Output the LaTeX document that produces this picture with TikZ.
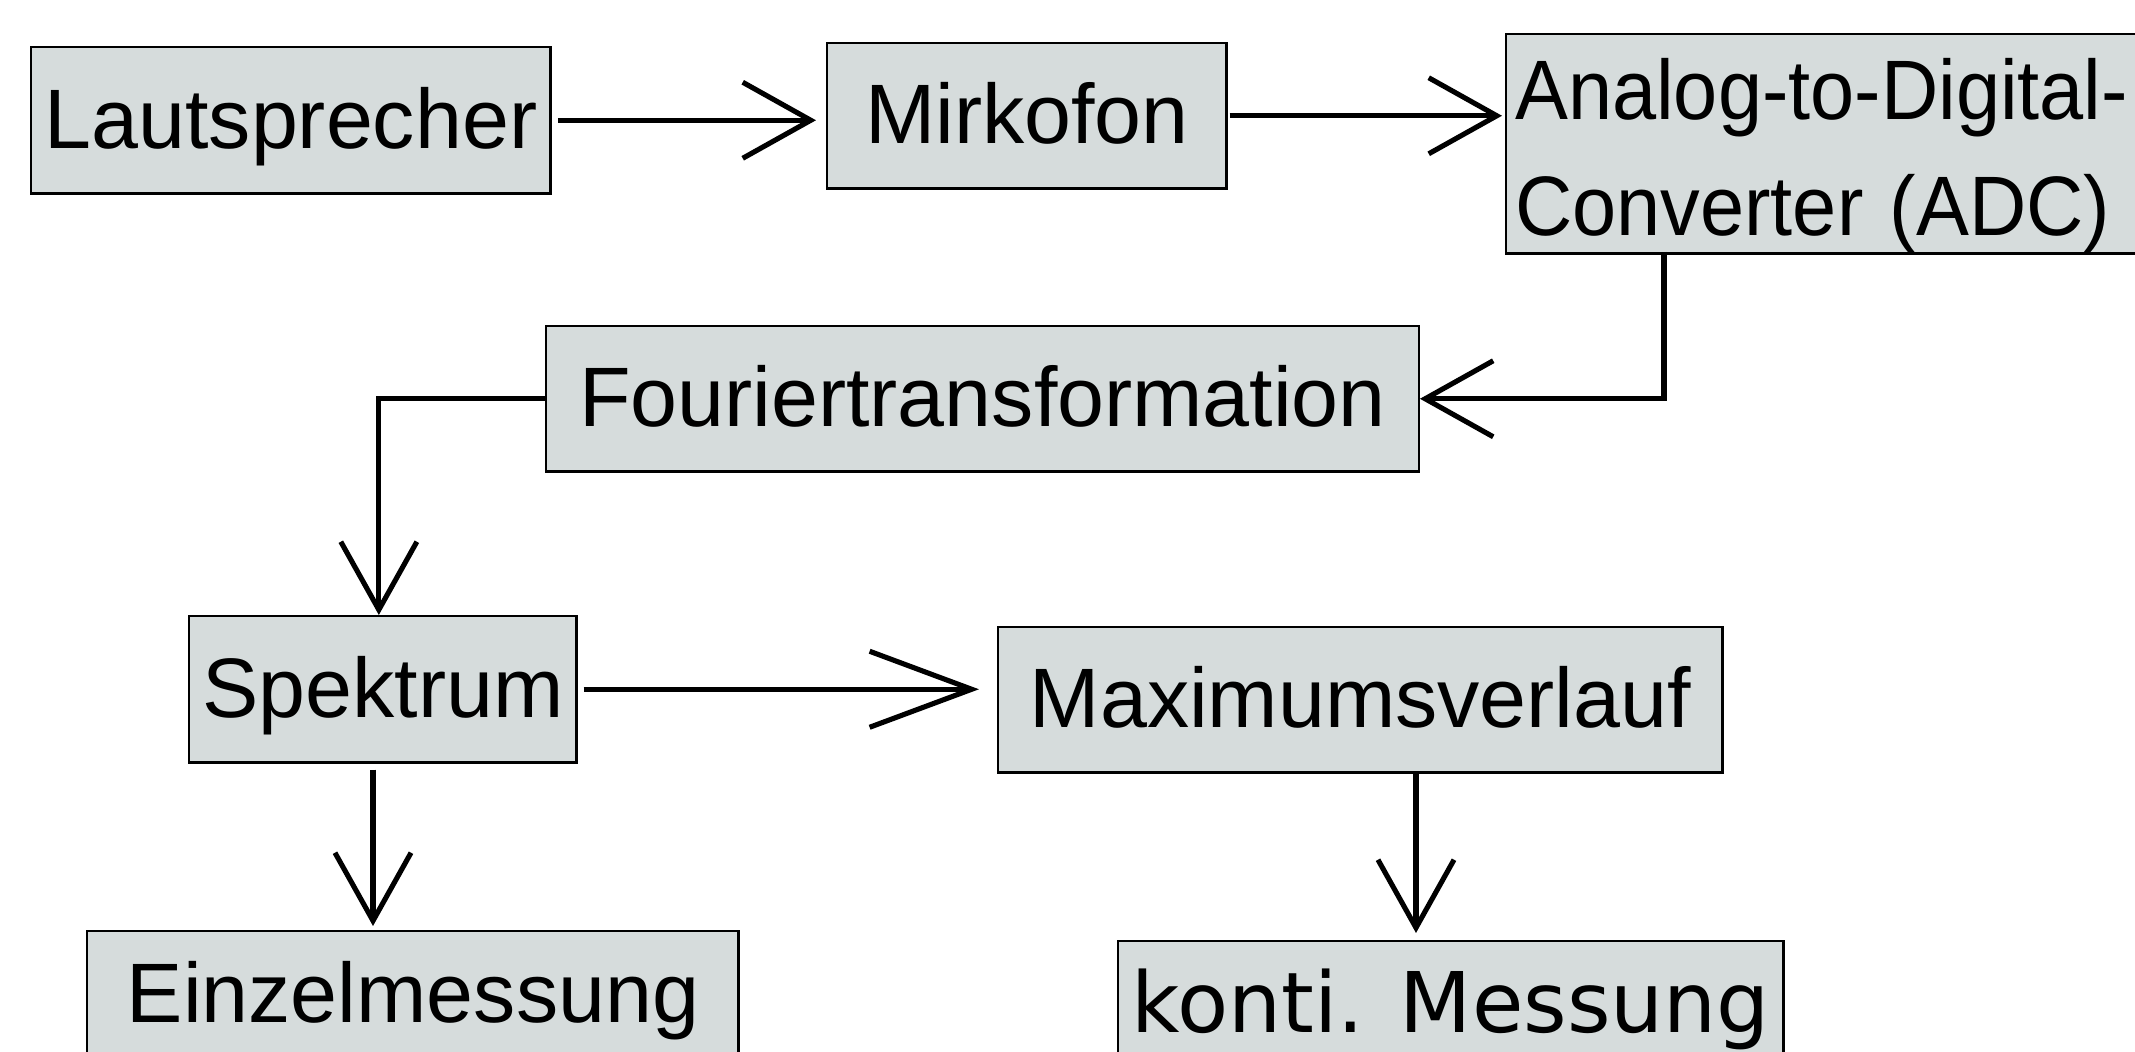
\documentclass[tikz,border=0pt]{standalone}
\usepackage{fontspec}
\usepackage{graphicx}
\setmainfont{Liberation Sans}
\newfontfamily\djv{DejaVu Sans}
\usetikzlibrary{arrows.meta}
\definecolor{boxgray}{RGB}{214,220,220}
\tikzset{
  base/.style={draw=black, line width=0.7pt, fill=boxgray, inner sep=0pt, anchor=north west},
  box/.style={base, font=\fontsize{24}{29}\selectfont, text height=17.2pt, text depth=1.4pt},
  arr/.style={line width=1.45pt, -{Straight Barb[length=0.68cm, width=0.76cm]}},
  longarr/.style={line width=1.45pt, -{Straight Barb[length=1.02cm, width=0.76cm]}}
}
\begin{document}
\begin{tikzpicture}[x=0.01cm, y=-0.01cm]
\useasboundingbox (0,0) rectangle (2135,1052);
\clip (0,0) rectangle (2135,1052);
\fill[white] (0,0) rectangle (2135,1052);

\node[box, minimum width=5.19cm, minimum height=1.46cm] (laut) at (30,46) {Lautsprecher};
\node[box, minimum width=3.99cm, minimum height=1.45cm] (mirk) at (826,42) {Mirkofon};
\node[base, minimum width=7.0cm, minimum height=2.19cm, inner xsep=0.09cm, text width=6.82cm, align=left,
      font=\fontsize{24}{33}\selectfont] (adc) at (1505,33)
  {\rule{0pt}{24.1pt}\scalebox{0.94}[1]{Analog-to-Digital-}\\\scalebox{0.94}[1]{Converter (ADC)}};
\node[box, minimum width=8.72cm, minimum height=1.45cm] (four) at (545,325) {Fouriertransformation};
\node[box, minimum width=3.87cm, minimum height=1.46cm] (spek) at (188,615) {Spektrum};
\node[box, minimum width=7.24cm, minimum height=1.45cm] (max) at (997,626) {Maximumsverlauf};
\node[box, minimum width=6.51cm, minimum height=1.27cm] (einz) at (86,930) {Einzelmessung};
\node[box, minimum width=6.65cm, minimum height=1.26cm, font=\djv\fontsize{23.8}{29}\selectfont, text height=17.4pt] (konti) at (1117,940) {konti. Messung};

\coordinate (adcout) at (1664,252);

\draw[arr, shorten <=0.06cm, shorten >=0.1cm] (laut.east) -- (laut.east -| mirk.west);
\draw[arr, shorten <=0.02cm, shorten >=0.03cm] (mirk.east) -- (mirk.east -| adc.west);
\draw[arr] (adcout) |- (four.east);
\draw[arr] (four.west) -| ([xshift=-0.04cm]spek.north);
\draw[longarr, shorten <=0.06cm, shorten >=0.18cm] (spek.east) -- (spek.east -| max.west);
\draw[arr, shorten <=0.06cm, shorten >=0.04cm] (spek.south -| 373,0) -- (einz.north -| 373,0);
\draw[arr, shorten >=0.07cm] (max.south -| 1416,0) -- (konti.north -| 1416,0);
\end{tikzpicture}
\end{document}
